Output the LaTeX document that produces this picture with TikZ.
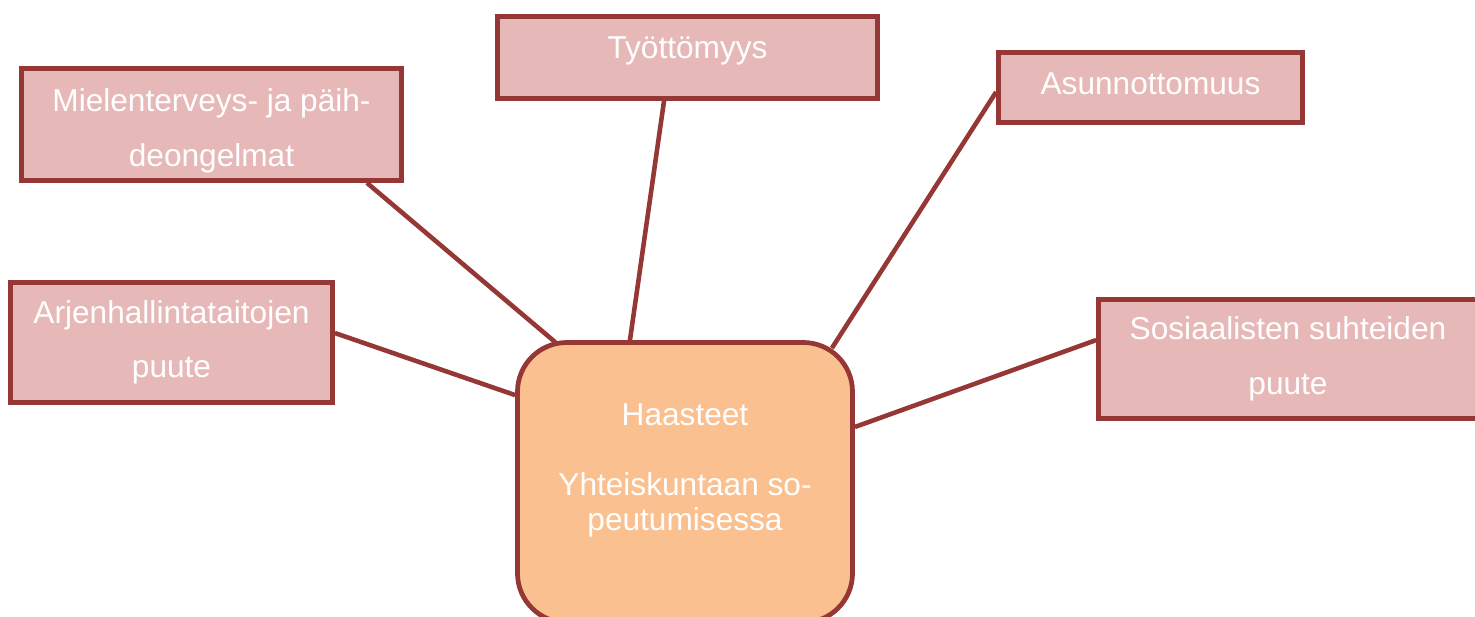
\documentclass[tikz,border=0pt]{standalone}
\usepackage{fontspec}
\setmainfont{Liberation Sans}
\usetikzlibrary{calc}
\definecolor{rim}{HTML}{953735}
\definecolor{boxfill}{HTML}{E6B9B8}
\definecolor{hubfill}{HTML}{FAC090}
\begin{document}
\begin{tikzpicture}[
    topic/.style={shape=rectangle,draw=rim,fill=boxfill,line width=2.7pt,text=white,align=center,
        font=\fontsize{18}{31}\selectfont,inner sep=0pt},
    hubbox/.style={shape=rectangle,rounded corners=28pt,draw=rim,fill=hubfill,line width=2.7pt},
    link/.style={draw=rim,line width=2.6pt}]
    \useasboundingbox (0,0) rectangle (29.5,-12.32);
    \node[hubbox,minimum width=6.7cm,minimum height=5.6cm] (H) at (13.7,-9.65) {};
    \node[text=white,align=center,font=\fontsize{18}{19.9}\selectfont] (Ht) at (13.7,-9.41) {Haasteet\\[19.9pt]Yhteiskuntaan so-\\peutumisessa};
    \node[topic,minimum width=7.6cm,minimum height=1.64cm] (T) at (13.75,-1.15) {Työttömyys\\[-0.69cm]};
    \node[topic,minimum width=7.6cm,minimum height=2.24cm] (M) at (4.23,-2.49) {\rule{0pt}{20pt}Mielenterveys- ja päih-\\deongelmat};
    \node[topic,minimum width=6.08cm,minimum height=1.4cm] (A) at (23.01,-1.75) {Asunnottomuus\\[-0.93cm]};
    \node[topic,minimum width=6.44cm,minimum height=2.4cm] (R) at (3.43,-6.85) {Arjenhallintataitojen\\puute};
    \node[topic,minimum width=7.58cm,minimum height=2.38cm] (S) at (25.76,-7.18) {Sosiaalisten suhteiden\\puute};
    \draw[link] ($(M.south west)!0.904!(M.south east)$) -- ($(H.north west)!0.118!(H.north east)+(0,-0.04)$);
    \draw[link] ($(T.south west)!0.439!(T.south east)$) -- ($(H.north west)!0.338!(H.north east)$);
    \draw[link] ($(A.north west)!0.56!(A.south west)$) -- ($(H.north east)+(-0.46,-0.16)$);
    \draw[link] ($(R.north east)!0.424!(R.south east)$) -- ($(H.north west)!0.193!(H.south west)$);
    \draw[link] ($(S.north west)!0.347!(S.south west)$) -- ($(H.north east)!0.305!(H.south east)$);
\end{tikzpicture}
\end{document}
